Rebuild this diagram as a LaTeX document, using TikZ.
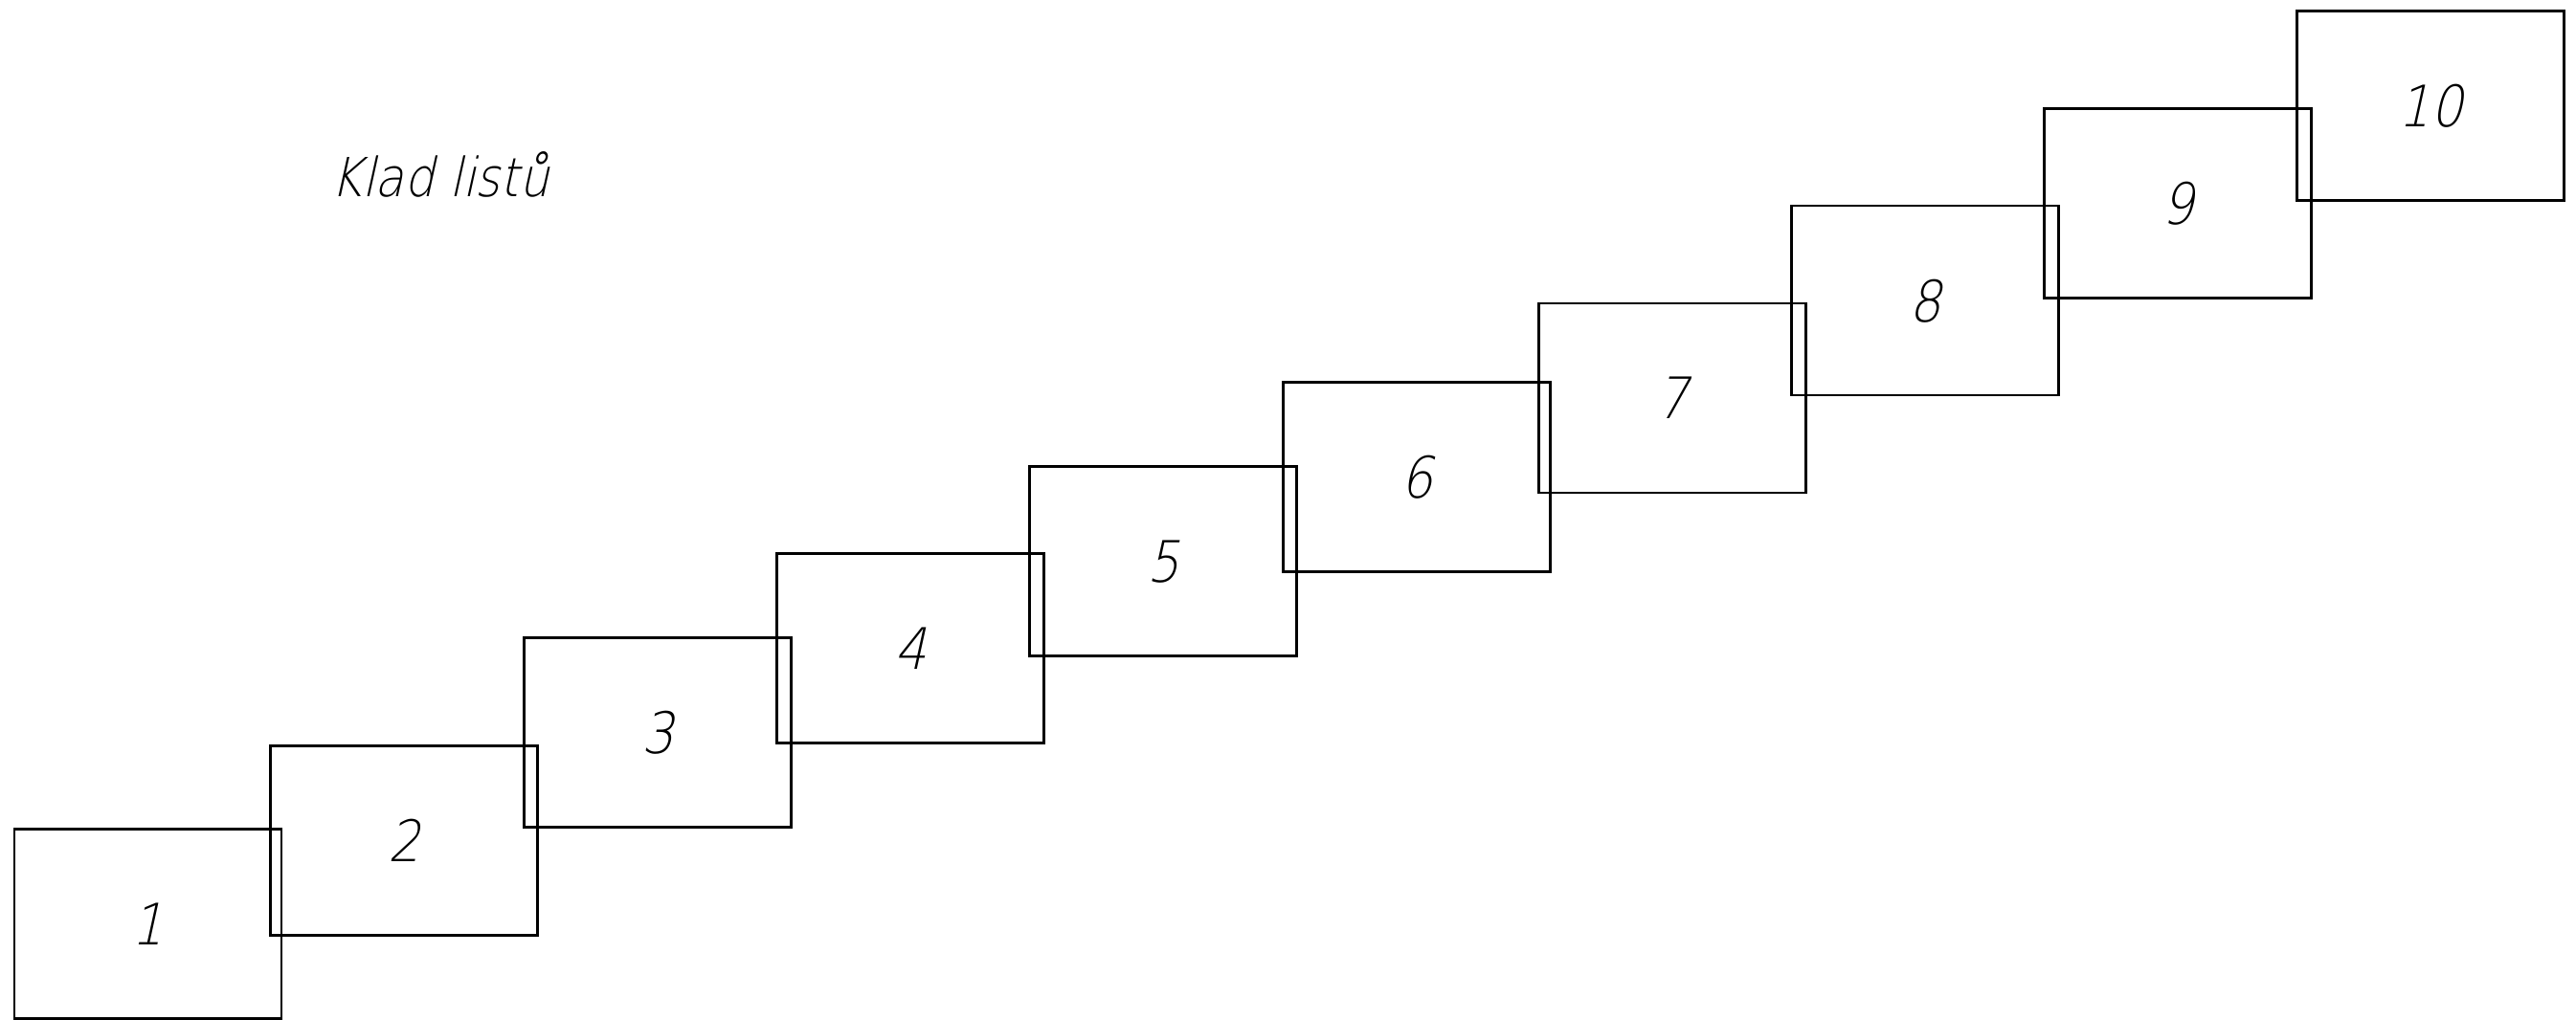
\documentclass[tikz,border=0pt]{standalone}
\usepackage{fontspec}
\usepackage{tikz}
\newfontfamily\isofont[FakeSlant=0.22, FakeStretch=0.88]{DejaVu Sans ExtraLight}

\tikzset{listbox/.style={draw, line width=0.6pt, minimum width=2.79cm,
    minimum height=1.98cm, inner sep=0pt, text depth=0pt,
    font=\isofont\fontsize{17}{20}\selectfont}}

\begin{document}
\begin{tikzpicture}
    % Page frame (2691 x 1066 px, 1 px = 0.01 cm)
    \useasboundingbox (0,0) rectangle (26.91,10.66);

    % Title
    \node[font=\isofont\fontsize{16}{19}\selectfont, anchor=west, inner sep=0pt] (title) at (3.45, 8.84) {Klad listů};

    % Sheets, each one shifted up and to the right
    \node[listbox] (list1) at (1.545, 1.005) {1};
    \node[listbox] (list2) at (4.22, 1.875) {2};
    \node[listbox] (list3) at (6.87, 3.005) {3};
    \node[listbox] (list4) at (9.51, 3.885) {4};
    \node[listbox] (list5) at (12.15, 4.795) {5};
    \node[listbox] (list6) at (14.80, 5.675) {6};
    \node[listbox] (list7) at (17.47, 6.50) {7};
    \node[listbox] (list8) at (20.11, 7.52) {8};
    \node[listbox] (list9) at (22.75, 8.535) {9};
    \node[listbox] (list10) at (25.39, 9.555) {10};
\end{tikzpicture}
\end{document}
